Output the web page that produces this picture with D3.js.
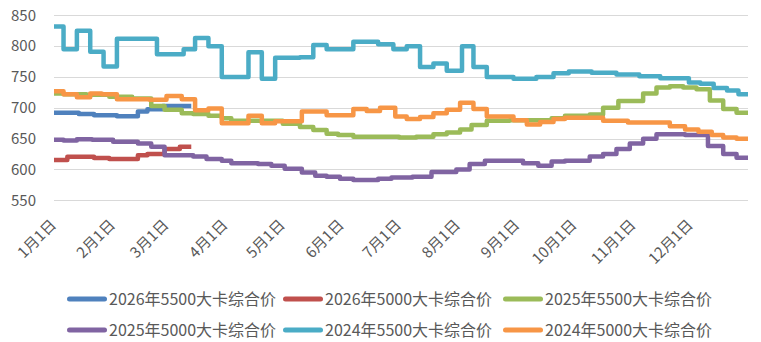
<!DOCTYPE html>
<html><head><meta charset="utf-8">
<script src="https://cdn.jsdelivr.net/npm/d3@7/dist/d3.min.js"></script>
<style>
html,body{margin:0;padding:0;background:#fff;}
svg{display:block;font-family:"Noto Sans CJK SC","Noto Sans",sans-serif;}
</style></head><body>
<svg id="chart" width="761" height="342"></svg>
<script>
// ---- data (day of year index, value from that day on) ----
const monthLabels = ["1月1日","2月1日","3月1日","4月1日","5月1日","6月1日","7月1日","8月1日","9月1日","10月1日","11月1日","12月1日"];
const monthDays = [0,31,59,90,120,151,181,212,243,273,304,334];
const yTicks = [550,600,650,700,750,800,850];

const blue2026Days = [0,13,21,33,44,49,57];
const blue2026Vals = [692,690,688,686.5,694,697.5,703];
const red2026Days = [0,7,21,29,44,49,58,66];
const red2026Vals = [615.5,620.5,618.5,617,623,625,633,637];
const green2025Days = [0,5,17,29,41,51,58,67,73,81,88,93,120,129,136,143,149,157,181,190,199,206,213,219,227,239,261,268,281,288,296,309,316,323,330,337,344,351,358];
const green2025Vals = [723,722,721,718,715,703,697,691,690,687,683,679,674,669,664,658,656,653,652,653,657,660,665,672,679,680,683,687,689,700,711,723,733,735,733,730,712,698,692];
const purple2025Days = [0,5,12,20,31,44,51,58,73,80,88,93,107,114,121,130,137,143,150,157,170,177,188,198,211,218,226,246,254,261,268,281,288,295,302,309,316,331,343,351,358];
const purple2025Vals = [648,647,649,648,645,642,637,623,621,617,614,610,609,606,601,595,590,588,585,583,585,587,588,596,600,609,614,610,606,613,614,621,625,633,642,650,657,656,638,625,619];
const teal2024Days = [0,5,12,19,26,33,54,68,74,81,88,102,109,116,129,136,143,157,170,178,185,192,199,206,214,220,227,241,253,262,270,282,295,307,318,333,339,346,353,359];
const teal2024Vals = [832,795,825,791,767,812,787,795,813,800,750,790,747,781,782,802,795,807,803,795,800,766,772,760,800,766,750,747,750,756,759,757,754,751,748,741,739,732,728,722];
const orange2024Days = [0,5,12,19,25,33,50,59,67,74,81,88,102,109,116,130,143,157,164,171,179,185,192,199,206,213,220,227,241,248,255,262,268,288,301,323,331,338,345,351,358];
const orange2024Vals = [727,722,717,723,722,714,713,719,714,696,699,675,687,675,678,694,688,698,695,700,686,682,685,691,697,708,698,686,680,673,677,682,684,679,676,670,665,661,656,652,650];

const seriesNames = ["2026年5500大卡综合价","2026年5000大卡综合价","2025年5500大卡综合价","2025年5000大卡综合价","2024年5500大卡综合价","2024年5000大卡综合价"];
const seriesColors = ["#4F81BD","#C0504D","#9BBB59","#8064A2","#4BACC6","#F79646"];
const seriesDays = [blue2026Days, red2026Days, green2025Days, purple2025Days, teal2024Days, orange2024Days];
const seriesVals = [blue2026Vals, red2026Vals, green2025Vals, purple2025Vals, teal2024Vals, orange2024Vals];
const seriesEnd = [72, 72, 364, 364, 364, 364];

// ---- chart ----
const svg = d3.select("#chart");
const x = d3.scaleLinear().domain([0,364]).range([54,748]);
const y = d3.scaleLinear().domain([550,850]).range([200.3,15.3]);
const textColor = "#595959";

// grid
svg.append("g").selectAll("line").data(yTicks).join("line")
  .attr("x1", x(0)).attr("x2", x(364))
  .attr("y1", d => Math.round(y(d)) + 0.5).attr("y2", d => Math.round(y(d)) + 0.5)
  .attr("stroke", "#D9D9D9").attr("stroke-width", 1);

// y axis labels
const yAxis = d3.axisLeft(y).tickValues(yTicks).tickSize(0).tickPadding(0);
const yg = svg.append("g").attr("transform", "translate(36,0)").call(yAxis);
yg.select(".domain").remove();
yg.selectAll("text").attr("fill", textColor).style("font-size", "15px")
  .style("font-family", '"Noto Sans CJK SC","Noto Sans",sans-serif');

// x axis labels (rotated)
const xg = svg.append("g");
xg.selectAll("text").data(monthDays).join("text")
  .attr("transform", (d) => `translate(${x(d) + 3},226) rotate(-45)`)
  .attr("text-anchor", "end")
  .attr("fill", textColor).style("font-size", "15px")
  .text((d, i) => monthLabels[i]);

// lines
const line = d3.line().x(p => x(p[0])).y(p => y(p[1])).curve(d3.curveStepAfter);
seriesDays.forEach((days, i) => {
  const vals = seriesVals[i];
  const pts = days.map((d, j) => [d, vals[j]]);
  pts.push([seriesEnd[i], vals[vals.length - 1]]);
  svg.append("path").datum(pts)
    .attr("d", line)
    .attr("fill", "none")
    .attr("stroke", seriesColors[i])
    .attr("stroke-width", 4.5)
    .attr("stroke-linejoin", "round")
    .attr("stroke-linecap", "butt");
});

// legend
const legendX = [67, 283, 503];
const legendY = [299, 330];
const lg = svg.append("g");
seriesNames.forEach((name, i) => {
  const lx = legendX[i % 3], ly = legendY[Math.floor(i / 3)];
  lg.append("line").attr("x1", lx + 2.5).attr("x2", lx + 37.5)
    .attr("y1", ly).attr("y2", ly)
    .attr("stroke", seriesColors[i]).attr("stroke-width", 5).attr("stroke-linecap", "round");
  lg.append("text").attr("x", lx + 42).attr("y", ly).attr("dy", "0.35em")
    .attr("fill", textColor).style("font-size", "16px").text(name);
});
</script>
</body></html>
